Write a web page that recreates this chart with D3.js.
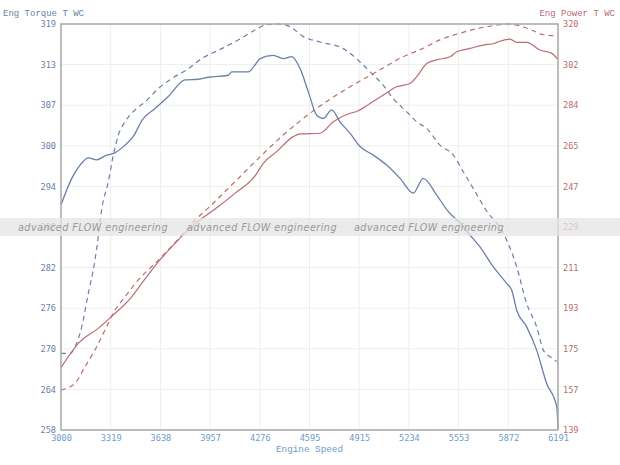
<!DOCTYPE html>
<html>
<head>
<meta charset="utf-8">
<script src="https://cdnjs.cloudflare.com/ajax/libs/d3/7.8.5/d3.min.js"></script>
<style>
body { margin: 0; background: #fff; }
.tick line { display: none; }
.domain { display: none; }
</style>
</head>
<body>
<div id="chart"></div>
<script>
var rpmLabels = ["3000","3319","3638","3957","4276","4595","4915","5234","5553","5872","6191"];
var torqueLabels = ["258","264","270","276","282","288","294","300","307","313","319"];
var powerLabels = ["139","157","175","193","211","229","247","265","284","302","320"];

var torqueSolid = [[3000,291.8],[3069,295.8],[3122,297.8],[3175,298.9],[3229,298.6],[3283,299.2],[3342,299.6],
  [3411,300.8],[3464,302.1],[3522,304.6],[3604,306.3],[3689,308.1],[3796,310.6],[3882,310.7],[3946,311.0],
  [4074,311.3],[4096,311.8],[4203,311.8],[4241,312.7],[4278,313.8],[4363,314.3],[4427,313.8],[4481,314.1],
  [4535,312.3],[4588,308.8],[4642,305.3],[4684,304.8],[4738,306.1],[4791,304.3],[4855,302.6],[4920,300.6],
  [5005,299.3],[5091,297.8],[5177,295.8],[5262,293.6],[5326,295.8],[5412,293.3],[5487,290.8],[5562,289.1],
  [5626,287.3],[5690,285.5],[5776,282.5],[5862,280.0],[5894,279.0],[5926,276.0],[5990,273.5],[6054,270.0],
  [6118,265.0],[6183,261.5],[6191,258.2]];

var torqueDash = [[3000,269.5],[3058,269.5],[3090,270.5],[3133,273.5],[3175,278.5],[3218,283.5],[3239,287.0],
  [3261,291.1],[3304,295.3],[3336,299.3],[3368,302.3],[3411,304.3],[3475,306.1],[3539,307.3],[3625,309.3],
  [3711,310.8],[3817,312.3],[3903,313.8],[4032,315.3],[4160,316.9],[4246,318.1],[4321,318.9],[4406,319.0],
  [4470,318.6],[4556,317.1],[4663,316.3],[4812,315.3],[4920,313.3],[4984,311.8],[5069,309.8],[5133,307.8],
  [5220,305.8],[5284,304.3],[5348,303.3],[5433,300.8],[5519,299.3],[5583,296.8],[5647,294.3],[5733,290.9],
  [5840,287.6],[5926,282.5],[5990,277.0],[6054,273.5],[6097,270.0],[6140,269.0],[6183,268.3]];

var powerSolid = [[3000,166.8],[3122,178.4],[3239,184.3],[3336,190.3],[3454,198.4],[3518,204.4],[3625,214.0],
  [3732,222.2],[3860,231.0],[3989,237.5],[4117,244.5],[4246,252.3],[4299,257.9],[4385,263.1],[4491,269.8],
  [4535,271.0],[4663,271.3],[4748,276.4],[4855,280.2],[4898,281.0],[4984,284.6],[5069,288.3],[5155,292.0],
  [5241,293.5],[5284,296.5],[5348,302.4],[5412,304.0],[5498,305.4],[5541,307.6],[5626,309.1],[5711,310.6],
  [5786,311.4],[5808,312.1],[5883,313.3],[5926,311.8],[5990,311.8],[6075,308.4],[6151,306.9],[6191,304.2]];

var powerDash = [[3000,156.8],[3090,159.8],[3154,167.2],[3218,174.7],[3283,183.6],[3347,192.5],[3411,198.4],
  [3496,205.9],[3604,213.3],[3732,222.5],[3860,232.5],[3946,238.0],[4117,249.7],[4246,258.6],[4427,270.5],
  [4642,282.4],[4855,292.0],[5027,298.7],[5177,304.7],[5326,309.2],[5433,312.9],[5562,315.9],[5690,318.2],
  [5797,319.5],[5862,320.0],[5947,319.2],[6032,317.0],[6097,315.2],[6161,314.8],[6185,314.8]];

var watermarkText = "advanced FLOW engineering";

var margin = {top: 24, right: 62, bottom: 35, left: 61},
    width = 620 - margin.left - margin.right,
    height = 465 - margin.top - margin.bottom;

var blue = "#6a7fa9", red = "#b96c71", lightBlue = "#6c9bcb";

var x = d3.scaleLinear().domain([3000, 6191]).range([0, width]),
    yT = d3.scaleLinear().domain([258, 319]).range([height, 0]),
    yP = d3.scaleLinear().domain([139, 320]).range([height, 0]);

var xTicks = rpmLabels.map(function(d, i) { return 3000 + i * 3191 / 10; }),
    tTicks = torqueLabels.map(function(d, i) { return 258 + i * 61 / 10; }),
    pTicks = powerLabels.map(function(d, i) { return 139 + i * 181 / 10; });

var svg = d3.select("#chart").append("svg")
    .attr("width", 620)
    .attr("height", 465)
    .style("font-family", "'Liberation Mono', monospace");

var g = svg.append("g")
    .attr("transform", "translate(" + margin.left + "," + margin.top + ")");

// faint grid
g.selectAll(".vgrid").data(xTicks).enter().append("line")
    .attr("x1", function(d) { return x(d); }).attr("x2", function(d) { return x(d); })
    .attr("y1", 0).attr("y2", height)
    .attr("stroke", "#eeeeee").attr("stroke-width", 1);
g.selectAll(".hgrid").data(tTicks).enter().append("line")
    .attr("y1", function(d) { return yT(d); }).attr("y2", function(d) { return yT(d); })
    .attr("x1", 0).attr("x2", width)
    .attr("stroke", "#eeeeee").attr("stroke-width", 1);

var line = function(ys) {
  return d3.line()
    .curve(d3.curveMonotoneX)
    .x(function(d) { return x(d[0]); })
    .y(function(d) { return ys(d[1]); });
};

g.append("path").datum(torqueDash)
    .attr("fill", "none").attr("stroke", blue).attr("stroke-width", 1.2)
    .attr("stroke-dasharray", "5,4").attr("d", line(yT));
g.append("path").datum(powerDash)
    .attr("fill", "none").attr("stroke", red).attr("stroke-width", 1.2)
    .attr("stroke-dasharray", "5,4").attr("d", line(yP));
g.append("path").datum(powerSolid)
    .attr("fill", "none").attr("stroke", red).attr("stroke-width", 1.2).attr("d", line(yP));
g.append("path").datum(torqueSolid)
    .attr("fill", "none").attr("stroke", blue).attr("stroke-width", 1.3).attr("d", line(yT));

// frame
g.append("rect")
    .attr("width", width).attr("height", height)
    .attr("fill", "none").attr("stroke", "#a9a9a9").attr("stroke-width", 1.5);

var xAxis = d3.axisBottom(x).tickValues(xTicks).tickSize(0).tickPadding(5)
    .tickFormat(function(d, i) { return rpmLabels[i]; });
var yAxisL = d3.axisLeft(yT).tickValues(tTicks).tickSize(0).tickPadding(5)
    .tickFormat(function(d, i) { return torqueLabels[i]; });
var yAxisR = d3.axisRight(yP).tickValues(pTicks).tickSize(0).tickPadding(5)
    .tickFormat(function(d, i) { return powerLabels[i]; });

g.append("g").attr("class", "x axis")
    .attr("transform", "translate(0," + height + ")")
    .call(xAxis)
    .selectAll("text").attr("fill", lightBlue)
    .style("font-family", "'DejaVu Sans Mono', monospace").style("font-size", "8.6px");

g.append("g").attr("class", "y axis")
    .call(yAxisL)
    .selectAll("text").attr("fill", blue)
    .style("font-family", "'DejaVu Sans Mono', monospace").style("font-size", "8.6px");

g.append("g").attr("class", "y axis")
    .attr("transform", "translate(" + width + ",0)")
    .call(yAxisR)
    .selectAll("text").attr("fill", red)
    .style("font-family", "'DejaVu Sans Mono', monospace").style("font-size", "8.6px");

// axis titles
svg.append("text").attr("x", 3).attr("y", 16)
    .attr("fill", blue).style("font-size", "9px").text("Eng Torque T WC");
svg.append("text").attr("x", 615).attr("y", 16).attr("text-anchor", "end")
    .attr("fill", red).style("font-size", "9px").text("Eng Power T WC");
svg.append("text").attr("x", margin.left + width / 2).attr("y", 452).attr("text-anchor", "middle")
    .attr("fill", lightBlue).style("font-size", "9.3px").text("Engine Speed");

// watermark band
svg.append("rect").attr("x", 0).attr("y", 218).attr("width", 620).attr("height", 18)
    .attr("fill", "#e4e4e4").attr("fill-opacity", 0.75);
svg.selectAll(".wm").data([18, 187, 354]).enter().append("text")
    .attr("x", function(d) { return d; }).attr("y", 231)
    .attr("textLength", 150).attr("lengthAdjust", "spacingAndGlyphs")
    .style("font-family", "'DejaVu Sans', sans-serif").style("font-style", "italic")
    .style("font-size", "10.5px").style("letter-spacing", "0.5px")
    .attr("fill", "#999999")
    .text(watermarkText);
</script>
</body>
</html>
